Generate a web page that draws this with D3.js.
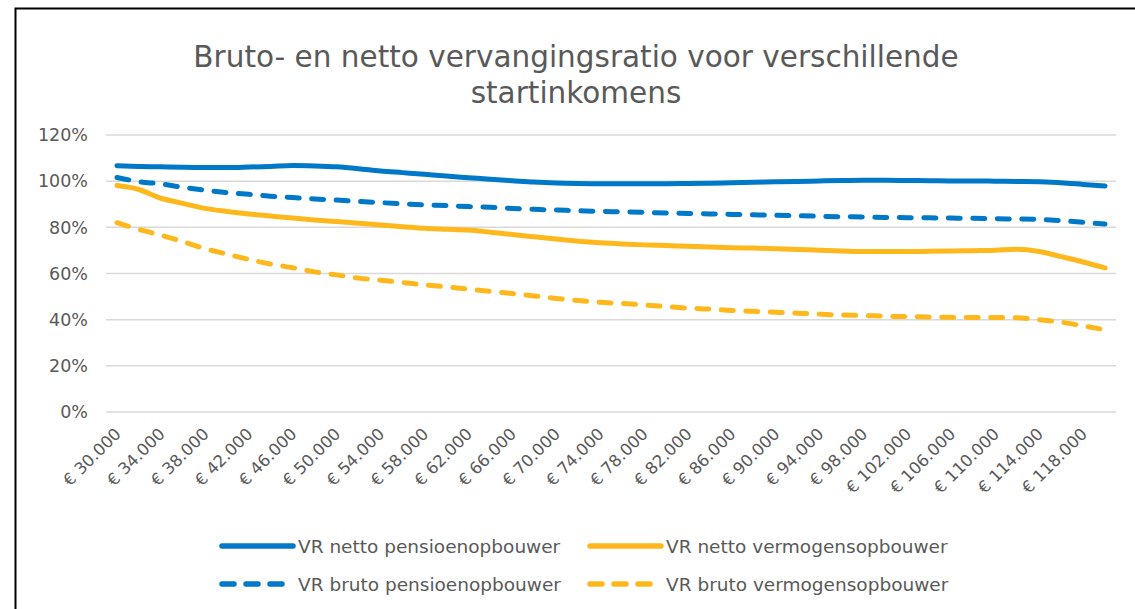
<!DOCTYPE html>
<html lang="nl">
<head>
<meta charset="UTF-8">
<title>Bruto- en netto vervangingsratio</title>
<script src="https://cdn.jsdelivr.net/npm/d3@7"></script>
<style>
  body { margin: 0; background: #fff; }
  svg text { font-family: "DejaVu Sans", Verdana, sans-serif; fill: #595959; }
</style>
</head>
<body>
<div id="container"></div>
<script>
// startinkomens, stappen van 2.000
const incomes = d3.range(30000, 120001, 2000);

const nettoPensioen = [
  106.7, 106.4, 106.2, 106.0, 105.9, 105.9, 106.1, 106.4, 106.8, 106.6,
  106.2, 105.4, 104.4, 103.7, 103.0, 102.2, 101.5, 100.8, 100.2, 99.6,
  99.2, 99.0, 98.9, 98.9, 98.9, 98.9, 99.0, 99.1, 99.3, 99.5,
  99.7, 99.9, 100.1, 100.3, 100.4, 100.4, 100.3, 100.2, 100.1, 100.1,
  100.0, 99.9, 99.8, 99.3, 98.6, 97.9
];
const nettoVermogen = [
  98.1, 96.4, 92.6, 90.4, 88.2, 86.9, 85.8, 84.9, 84.0, 83.2,
  82.5, 81.8, 81.0, 80.3, 79.6, 79.2, 78.8, 77.9, 76.9, 75.9,
  74.9, 74.0, 73.3, 72.8, 72.4, 72.1, 71.8, 71.5, 71.2, 71.0,
  70.7, 70.4, 70.1, 69.8, 69.5, 69.5, 69.5, 69.6, 69.7, 69.9,
  70.1, 70.5, 69.5, 67.3, 65.0, 62.4
];
const brutoPensioen = [
  101.6, 99.8, 98.8, 97.3, 96.1, 95.1, 94.3, 93.5, 92.9, 92.3,
  91.8, 91.2, 90.7, 90.2, 89.7, 89.4, 89.0, 88.7, 88.2, 87.8,
  87.5, 87.2, 86.9, 86.7, 86.5, 86.2, 86.0, 85.8, 85.6, 85.4,
  85.2, 85.0, 84.8, 84.6, 84.5, 84.3, 84.2, 84.1, 84.0, 83.9,
  83.7, 83.6, 83.4, 82.9, 82.2, 81.4
];
const brutoVermogen = [
  82.0, 79.1, 76.6, 73.8, 70.8, 68.4, 66.1, 64.1, 62.5, 60.7,
  59.4, 58.0, 57.1, 56.1, 55.1, 54.2, 53.2, 52.3, 51.3, 50.3,
  49.2, 48.3, 47.5, 47.0, 46.4, 45.7, 45.0, 44.6, 44.0, 43.6,
  43.2, 42.8, 42.4, 42.0, 41.8, 41.5, 41.3, 41.2, 41.0, 40.9,
  40.9, 40.8, 40.0, 38.9, 37.3, 35.6
];

const yTicks = [0, 20, 40, 60, 80, 100, 120];
const titleLines = ["Bruto- en netto vervangingsratio voor verschillende", "startinkomens"];

const series = [
  { name: "VR netto pensioenopbouwer", values: nettoPensioen, color: "#0078C8", dashed: false },
  { name: "VR netto vermogensopbouwer", values: nettoVermogen, color: "#FFB81C", dashed: false },
  { name: "VR bruto pensioenopbouwer", values: brutoPensioen, color: "#0078C8", dashed: true },
  { name: "VR bruto vermogensopbouwer", values: brutoVermogen, color: "#FFB81C", dashed: true }
];

const width = 1135;
const height = 609;
const marginTop = 135;
const marginRight = 19;
const marginBottom = 197;
const marginLeft = 106;

const x = d3.scaleBand()
    .domain(incomes)
    .range([marginLeft, width - marginRight]);

const y = d3.scaleLinear()
    .domain([0, 120])
    .range([height - marginBottom, marginTop]);

const fmt = v => "€ " + d3.format(",")(v).replace(/,/g, ".");

const svg = d3.create("svg")
    .attr("width", width)
    .attr("height", height);

// kader
svg.append("rect")
    .attr("x", 15.5)
    .attr("y", 8.5)
    .attr("width", 1130)
    .attr("height", 620)
    .attr("fill", "none")
    .attr("stroke", "#000")
    .attr("stroke-width", 2);

// titel
svg.append("text")
    .attr("x", 576)
    .attr("y", 67)
    .attr("text-anchor", "middle")
    .style("font-size", "29.5px")
    .selectAll("tspan")
    .data(titleLines)
    .join("tspan")
      .attr("x", 576)
      .attr("dy", (d, i) => i ? 36 : 0)
      .text(d => d);

// rasterlijnen
svg.append("g")
    .selectAll("line")
    .data(yTicks)
    .join("line")
      .attr("x1", marginLeft)
      .attr("x2", width - marginRight)
      .attr("y1", d => y(d))
      .attr("y2", d => y(d))
      .attr("stroke", "#D9D9D9")
      .attr("stroke-width", 1.5);

// y-as
svg.append("g")
    .selectAll("text")
    .data(yTicks)
    .join("text")
      .attr("x", 88)
      .attr("y", d => y(d))
      .attr("dy", "0.36em")
      .attr("text-anchor", "end")
      .style("font-size", "17.5px")
      .text(d => d + "%");

// x-as labels, om de andere categorie
svg.append("g")
    .selectAll("text")
    .data(incomes.filter((d, i) => i % 2 === 0))
    .join("text")
      .attr("transform", d => `translate(${x(d) + x.bandwidth() / 2 + 5},${y(0) + 23}) rotate(-45)`)
      .attr("text-anchor", "end")
      .style("font-size", "16.5px")
      .text(fmt);

const line = d3.line()
    .x((d, i) => x(incomes[i]) + x.bandwidth() / 2)
    .y(d => y(d))
    .curve(d3.curveMonotoneX);

svg.append("g")
    .selectAll("path")
    .data(series)
    .join("path")
      .attr("d", d => line(d.values))
      .attr("fill", "none")
      .attr("stroke", d => d.color)
      .attr("stroke-width", 5)
      .attr("stroke-linecap", "round")
      .attr("stroke-linejoin", "round")
      .attr("stroke-dasharray", d => d.dashed ? "12,12.5" : null);

// legenda
const legendPos = [[222, 546], [590, 546], [222, 584], [590, 584]];
const legend = svg.append("g")
    .selectAll("g")
    .data(series)
    .join("g")
      .attr("transform", (d, i) => `translate(${legendPos[i][0]},${legendPos[i][1]})`);

legend.append("line")
    .attr("x1", 0)
    .attr("x2", 71)
    .attr("stroke", d => d.color)
    .attr("stroke-width", 5.5)
    .attr("stroke-linecap", "round")
    .attr("stroke-dasharray", d => d.dashed ? "12,12" : null);

legend.append("text")
    .attr("x", 76)
    .attr("dy", "0.36em")
    .style("font-size", "18.5px")
    .text(d => d.name);

document.getElementById("container").append(svg.node());
</script>
</body>
</html>
